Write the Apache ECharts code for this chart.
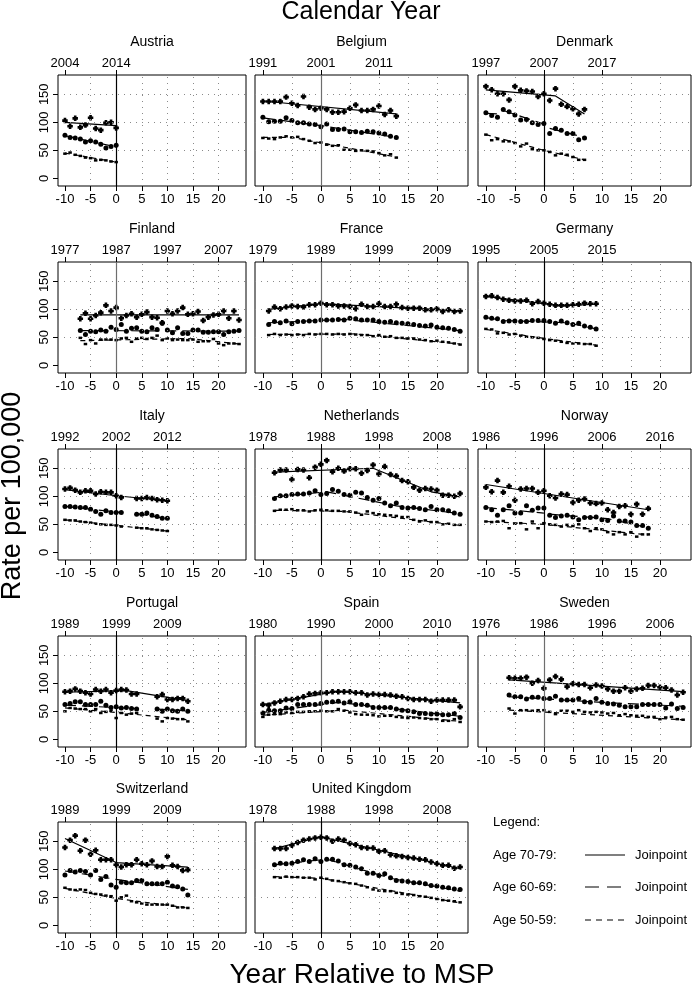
<!DOCTYPE html>
<html>
<head>
<meta charset="utf-8">
<script src="https://cdn.jsdelivr.net/npm/echarts@6/dist/echarts.min.js"></script>
<style>
html,body{margin:0;padding:0;background:#fff;}
#chart{width:692px;height:992px;}
</style>
</head>
<body>
<div id="chart"></div>
<script>
// ---------------- DATA ----------------
const COUNTRIES = ['Austria','Belgium','Denmark','Finland','France','Germany','Italy','Netherlands','Norway','Portugal','Spain','Sweden','Switzerland','United Kingdom'];
const MSP_YEAR = [2014, 2001, 2007, 1987, 1989, 2005, 2002, 1988, 1996, 1999, 1990, 1986, 1999, 1988];
const FIRST_X  = [-10, -10, -10, -7, -9, -10, -10, -8, -10, -10, -10, -6, -10, -8];
const TOP_YEARS = [
  [2004, 2014], [1991, 2001, 2011], [1997, 2007, 2017],
  [1977, 1987, 1997, 2007], [1979, 1989, 1999, 2009], [1995, 2005, 2015],
  [1992, 2002, 2012], [1978, 1988, 1998, 2008], [1986, 1996, 2006, 2016],
  [1989, 1999, 2009], [1980, 1990, 2000, 2010], [1976, 1986, 1996, 2006],
  [1989, 1999, 2009], [1978, 1988, 1998, 2008]
];
const BOTTOM_TICKS = [-10, -5, 0, 5, 10, 15, 20];
const Y_TICKS = [0, 50, 100, 150];
const GRID_X = [-5, 5, 10, 15, 20];
const GRID_Y = [50, 100, 150];
const AGE_GROUPS = ['Age 70-79:', 'Age 60-69:', 'Age 50-59:'];
const FIT_LABEL = 'Joinpoint';

// Austria
const austria70 = [103, 93, 107, 91, 95, 108, 89, 86, 99, 100, 90];
const austria60 = [77, 73, 72, 70, 65, 67, 65, 61, 54, 57, 59];
const austria50 = [44, 46, 42, 40, 37, 36, 32, 33, 32, 30, 29];
const austriaFit70 = [[-10, 100], [0, 94]];
const austriaFit60 = [[-10, 76], [0, 56]];
const austriaFit50 = [[-10, 45], [0, 29]];
// Belgium
const belgium70 = [137, 137, 137, 137, 145, 134, 130, 146, 127, 123, 125, 123, 118, 118, 119, 125, 131, 121, 121, 123, 129, 114, 121, 111];
const belgium60 = [109, 101, 102, 102, 108, 103, 99, 99, 97, 96, 92, 97, 87, 87, 88, 83, 83, 82, 84, 83, 81, 79, 75, 73];
const belgium50 = [72, 71, 70, 73, 75, 73, 74, 70, 67, 63, 64, 60, 58, 59, 51, 51, 49, 50, 49, 48, 45, 41, 43, 37];
const belgiumFit70 = [[-10, 138], [13, 115]];
const belgiumFit60 = [[-10, 108], [0, 94], [13, 73]];
const belgiumFit50 = [[-10, 73], [-5, 73], [13, 38]];
// Denmark
const denmark70 = [164, 158, 151, 151, 140, 164, 157, 156, 155, 146, 151, 139, 160, 132, 128, 124, 115, 123];
const denmark60 = [117, 112, 109, 123, 119, 113, 104, 105, 99, 96, 98, 80, 89, 86, 80, 80, 69, 72];
const denmark50 = [78, 68, 70, 66, 66, 63, 57, 62, 52, 50, 50, 47, 41, 44, 42, 38, 33, 33];
const denmarkFit70 = [[-10, 158], [2, 147], [7, 115]];
const denmarkFit60 = [[-10, 116], [-8, 115], null, [-7, 121], [0, 97], null, [1, 89], [7, 73]];
const denmarkFit50 = [[-10, 78], [0, 50], [7, 33]];
// Finland
const finland70 = [83, 93, 83, 89, 94, 107, 97, 103, 84, 89, 92, 86, 91, 95, 86, 85, 76, 97, 92, 97, 103, 91, 92, 96, 80, 86, 90, 91, 97, 84, 97, 81];
const finland60 = [62, 55, 61, 60, 63, 61, 68, 64, 73, 61, 66, 67, 61, 60, 67, 64, 75, 63, 58, 67, 57, 57, 63, 63, 59, 59, 60, 60, 55, 60, 61, 62];
const finland50 = [49, 38, 45, 39, 46, 46, 46, 45, 48, 49, 42, 48, 49, 47, 49, 53, 45, 48, 45, 46, 45, 45, 46, 42, 43, 43, 47, 39, 36, 39, 39, 38];
const finlandFit70 = [[-7, 90], [24, 90]];
const finlandFit60 = [[-7, 62], [24, 61]];
const finlandFit50 = [[-7, 44], [14, 48], [24, 38]];
// France
const france70 = [97, 104, 101, 104, 106, 105, 104, 108, 108, 111, 108, 108, 106, 106, 105, 101, 109, 105, 105, 110, 105, 105, 109, 103, 102, 102, 102, 99, 99, 101, 96, 99, 96, 97];
const france60 = [73, 78, 76, 79, 74, 78, 78, 79, 79, 81, 81, 81, 82, 81, 84, 83, 81, 81, 81, 78, 77, 78, 76, 75, 74, 73, 71, 70, 72, 68, 67, 66, 64, 61];
const france50 = [54, 56, 54, 55, 54, 55, 54, 56, 55, 56, 56, 55, 56, 55, 56, 55, 54, 54, 52, 54, 51, 52, 49, 49, 48, 48, 46, 45, 43, 44, 42, 41, 39, 37];
const franceFit70 = [[-9, 100], [0, 110], [24, 97]];
const franceFit60 = [[-9, 76], [4, 82], [24, 62]];
const franceFit50 = [[-9, 55], [6, 56], [24, 38]];
// Germany
const germany70 = [123, 124, 121, 118, 116, 115, 115, 116, 110, 114, 111, 109, 107, 107, 107, 108, 109, 111, 110, 110];
const germany60 = [86, 84, 83, 78, 79, 79, 78, 78, 80, 80, 80, 78, 75, 79, 76, 73, 75, 70, 68, 65];
const germany50 = [65, 64, 57, 58, 55, 56, 53, 51, 50, 49, 47, 45, 44, 42, 40, 39, 39, 38, 38, 35];
const germanyFit70 = [[-10, 123], [3, 106], [9, 109]];
const germanyFit60 = [[-10, 85], [-7, 80], [4, 76], [9, 65]];
const germanyFit50 = [[-10, 64], [0, 48], [9, 36]];
// Italy
const italy70 = [113, 115, 111, 107, 110, 110, 104, 108, 107, 107, 101, 98, null, null, 96, 96, 98, 96, 94, 93, 92];
const italy60 = [82, 82, 81, 80, 80, 77, 73, 68, 74, 71, 71, 71, null, null, 68, 68, 70, 66, 64, 61, 61];
const italy50 = [58, 57, 57, 55, 54, 53, 51, 50, 49, 49, 48, 46, null, null, 44, 43, 43, 41, 40, 39, 38];
const italyFit70 = [[-10, 112], [0, 101], [10, 92]];
const italyFit60 = [[-10, 82], [1, 71], null, [4, 69], [10, 60]];
const italyFit50 = [[-10, 58], [0, 48], [10, 38]];
// Netherlands
const netherlands70 = [142, 147, 147, 130, 148, 147, 133, 152, 157, 164, 144, 150, 145, 149, 149, 141, 146, 156, 140, 153, 139, 136, 128, 126, 116, 111, 114, 113, 111, 102, 102, 100, 105];
const netherlands60 = [96, 101, 101, 103, 104, 104, 106, 110, 103, 105, 112, 109, 103, 102, 107, 106, 98, 93, 96, 88, 83, 88, 80, 79, 80, 78, 76, 82, 76, 76, 74, 70, 68];
const netherlands50 = [74, 76, 76, 77, 75, 75, 73, 75, 76, 75, 74, 74, 73, 73, 71, 67, 73, 70, 68, 67, 66, 65, 63, 63, 58, 55, 57, 54, 54, 50, 51, 49, 49];
const netherlandsFit70 = [[-8, 143], [9, 150], [19, 108], [24, 99]];
const netherlandsFit60 = [[-8, 99], [1, 108], [13, 83], [24, 69]];
const netherlandsFit50 = [[-8, 75], [4, 73], [24, 48]];
// Norway
const norway70 = [116, 108, 128, 107, 118, 93, 113, 114, 114, 107, 110, 101, 97, 104, 103, 89, 93, 95, 88, 87, 88, 76, 71, 82, 83, 68, 86, 68, 78];
const norway60 = [80, 76, 66, 76, 83, 70, 70, 83, 75, 79, 79, 66, 62, 65, 66, 63, 58, 62, 62, 63, 58, 57, 65, 56, 56, 54, 48, 48, 43];
const norway50 = [55, 54, 55, 56, 43, 51, 52, 41, 55, 43, 52, 50, 49, 46, 49, 47, 50, 43, 38, 43, 41, 36, 32, 36, 32, 36, 28, 32, 32];
const norwayFit70 = [[-10, 121], [0, 105], [18, 76]];
const norwayFit60 = [[-10, 80], [0, 70], null, [1, 68], [11, 60], [18, 44]];
const norwayFit50 = [[-10, 55], [0, 50], [18, 31]];
// Portugal
const portugal70 = [85, 86, 90, 86, 83, 81, 89, 86, 89, 83, 87, 89, 88, 81, 81, null, null, null, 76, 80, 71, 71, 73, 73, 68];
const portugal60 = [62, 64, 67, 67, 62, 62, 62, 68, 61, 57, 58, 56, 57, 55, 54, null, null, null, 54, 50, 54, 51, 50, 54, 50];
const portugal50 = [50, 56, 55, 54, 54, 50, 54, 47, 49, 51, 38, 47, 44, 46, 47, null, null, null, 37, 32, 38, 37, 36, 36, 32];
const portugalFit70 = [[-10, 84], [2, 87], [14, 69]];
const portugalFit60 = [[-10, 61], [4, 55], null, [8, 54], [14, 51]];
const portugalFit50 = [[-10, 56], [0, 48], [14, 35]];
// Spain
const spain70 = [62, 61, 65, 68, 71, 71, 73, 76, 81, 82, 83, 83, 85, 85, 85, 85, 83, 83, 79, 81, 80, 80, 79, 77, 76, 73, 71, 71, 71, 68, 70, 70, 70, 70, 58];
const spain60 = [47, 52, 51, 51, 56, 55, 62, 62, 62, 62, 64, 66, 67, 68, 65, 67, 62, 62, 61, 57, 57, 57, 57, 54, 52, 51, 49, 46, 46, 45, 45, 44, 44, 46, 39];
const spain50 = [40, 44, 45, 45, 48, 47, 49, 49, 50, 50, 51, 50, 50, 54, 51, 48, 45, 44, 44, 43, 41, 42, 42, 40, 39, 38, 39, 38, 37, 36, 36, 33, 33, 36, 31];
const spainFit70 = [[-10, 62], [3, 86], [24, 65]];
const spainFit60 = [[-10, 48], [3, 66], [24, 41]];
const spainFit50 = [[-10, 43], [4, 52], [24, 32]];
// Sweden
const sweden70 = [110, 109, 109, 111, 100, 105, 91, 106, 112, 107, 94, 99, 98, 98, 92, 97, 95, 90, 86, 86, 92, 86, 90, 91, 96, 96, 93, 92, 88, 79, 84];
const sweden60 = [79, 76, 76, 72, 75, 75, 73, 73, 77, 70, 70, 70, 73, 67, 66, 73, 66, 64, 63, 61, 58, 58, 58, 62, 62, 62, 62, 56, 63, 55, 57];
const sweden50 = [55, 46, 52, 52, 51, 52, 52, 49, 45, 51, 51, 49, 52, 49, 48, 49, 48, 46, 47, 43, 45, 43, 42, 42, 40, 40, 36, 39, 40, 36, 35];
const swedenFit70 = [[-6, 106], [24, 85]];
const swedenFit60 = [[-6, 76], [10, 66], [24, 59]];
const swedenFit50 = [[-6, 52], [24, 35]];
// Switzerland
const switzerland70 = [139, 152, 160, 133, 152, 127, 134, 117, 117, 117, 108, 104, 108, 108, 117, 110, 108, 115, 105, 105, 123, 107, 105, 98, 99];
const switzerland60 = [90, 98, 95, 98, 96, 90, 98, 82, 87, 72, 68, 77, 76, 76, 80, 80, 74, 74, 74, 74, 77, 70, 69, 65, 54];
const switzerland50 = [67, 64, 63, 64, 63, 58, 56, 55, 53, 52, 44, 50, 53, 43, 41, 39, 37, 37, 37, 37, 37, 35, 32, 32, 31];
const switzerlandFit70 = [[-10, 155], [0, 112], [14, 104]];
const switzerlandFit60 = [[-10, 97], [0, 82], [14, 64]];
const switzerlandFit50 = [[-10, 66], [0, 48], [14, 31]];
// United Kingdom
const uk70 = [137, 137, 137, 143, 148, 152, 154, 156, 157, 156, 150, 154, 152, 146, 144, 139, 138, 138, 132, 133, 126, 124, 123, 121, 120, 118, 117, 113, 110, 107, 107, 102, 104];
const uk60 = [108, 111, 110, 111, 114, 117, 114, 119, 114, 118, 118, 115, 108, 107, 104, 101, 93, 93, 89, 92, 85, 80, 79, 78, 76, 76, 74, 71, 70, 68, 67, 65, 64];
const uk50 = [86, 85, 87, 86, 86, 85, 85, 82, 85, 83, 80, 79, 77, 75, 74, 71, 68, 64, 62, 61, 61, 58, 56, 55, 54, 52, 51, 49, 47, 45, 44, 43, 41];
const ukFit70 = [[-8, 137], [0, 158], [24, 101]];
const ukFit60 = [[-8, 108], [1, 118], [12, 84], [24, 61]];
const ukFit50 = [[-8, 87], [0, 84], [24, 40]];

const RATES = [
  [austria70, belgium70, denmark70, finland70, france70, germany70, italy70, netherlands70, norway70, portugal70, spain70, sweden70, switzerland70, uk70],
  [austria60, belgium60, denmark60, finland60, france60, germany60, italy60, netherlands60, norway60, portugal60, spain60, sweden60, switzerland60, uk60],
  [austria50, belgium50, denmark50, finland50, france50, germany50, italy50, netherlands50, norway50, portugal50, spain50, sweden50, switzerland50, uk50]
];
const FITS = [
  [austriaFit70, belgiumFit70, denmarkFit70, finlandFit70, franceFit70, germanyFit70, italyFit70, netherlandsFit70, norwayFit70, portugalFit70, spainFit70, swedenFit70, switzerlandFit70, ukFit70],
  [austriaFit60, belgiumFit60, denmarkFit60, finlandFit60, franceFit60, germanyFit60, italyFit60, netherlandsFit60, norwayFit60, portugalFit60, spainFit60, swedenFit60, switzerlandFit60, ukFit60],
  [austriaFit50, belgiumFit50, denmarkFit50, finlandFit50, franceFit50, germanyFit50, italyFit50, netherlandsFit50, norwayFit50, portugalFit50, spainFit50, swedenFit50, switzerlandFit50, ukFit50]
];

// ---------------- STYLE / LAYOUT ----------------
const FONT = '"Liberation Sans", Arial, Helvetica, sans-serif';
const X_MIN = -11.36, X_MAX = 25.36;
const Y_MIN = -13.7, Y_MAX = 184.4;
const COL_LEFT = [58, 255, 478];
const COL_W = [188, 213, 213];
const ROW_TOP = [75, 262, 449, 636, 822];
const PANEL_H = 111;
const ZERO_LINE_GRAY = [false, true, false, true, true, false, false, false, false, false, true, true, false, false];
const PLUS = 'path://M2.1,0H5.9V2.1H8V5.9H5.9V8H2.1V5.9H0V2.1H2.1Z';
const SYMBOLS = [PLUS, 'circle', 'rect'];
const SYMBOL_SIZES = [5.5, 5, [3.5, 2.5]];
const DASHES = ['solid', [11, 6], [5, 4]];

function toPoints(vals, x0) {
  const out = [];
  vals.forEach((v, k) => { if (v !== null) out.push([x0 + k, v]); });
  return out;
}
function segments(fit) {
  const segs = []; let cur = [];
  fit.forEach(p => { if (p === null) { if (cur.length) segs.push(cur); cur = []; } else cur.push(p); });
  if (cur.length) segs.push(cur);
  return segs;
}

const grids = [], xAxes = [], yAxes = [], series = [], graphics = [];
COUNTRIES.forEach((name, i) => {
  const r = Math.floor(i / 3), c = i % 3;
  const left = COL_LEFT[c], width = COL_W[c], top = ROW_TOP[r];
  grids.push({ left, top, width, height: PANEL_H, show: true, borderColor: '#000', borderWidth: 1,
    backgroundColor: 'transparent', containLabel: false, outerBoundsMode: 'none' });
  const msp = MSP_YEAR[i];
  const topVals = TOP_YEARS[i].map(y => y - msp);
  xAxes.push({
    type: 'value', gridIndex: i, min: X_MIN, max: X_MAX, position: 'bottom',
    axisLine: { show: false, onZero: false }, splitLine: { show: false },
    axisTick: { show: true, customValues: BOTTOM_TICKS, length: 5, lineStyle: { color: '#000' } },
    axisLabel: { customValues: BOTTOM_TICKS, fontSize: 13, color: '#000', margin: 7, fontFamily: FONT }
  });
  xAxes.push({
    type: 'value', gridIndex: i, min: X_MIN, max: X_MAX, position: 'top',
    axisLine: { show: false, onZero: false }, splitLine: { show: false },
    axisTick: { show: true, customValues: topVals, length: 5, lineStyle: { color: '#000' } },
    axisLabel: { customValues: topVals, fontSize: 13, color: '#000', margin: 5, fontFamily: FONT,
      formatter: v => String(Math.round(v + msp)) }
  });
  yAxes.push({
    type: 'value', gridIndex: i, min: Y_MIN, max: Y_MAX, position: 'left',
    axisLine: { show: false, onZero: false }, splitLine: { show: false },
    axisTick: { show: c === 0, customValues: Y_TICKS, length: 5, lineStyle: { color: '#000' } },
    axisLabel: { show: c === 0, customValues: Y_TICKS, rotate: 90, fontSize: 13, color: '#000', margin: 7, fontFamily: FONT }
  });
  // reference lines: dotted grid + solid line at MSP (x = 0)
  const ml = [];
  GRID_X.forEach(v => ml.push({ xAxis: v }));
  GRID_Y.forEach(v => ml.push({ yAxis: v }));
  ml.push({ xAxis: 0, lineStyle: { type: 'solid', color: ZERO_LINE_GRAY[i] ? '#6e6e6e' : '#000', width: 1.2 } });
  series.push({
    type: 'line', xAxisIndex: 2 * i, yAxisIndex: i, data: [], silent: true, z: 1,
    markLine: { silent: true, symbol: ['none', 'none'], animation: false, label: { show: false },
      lineStyle: { type: [1, 5], color: '#8a8a8a', width: 1 }, data: ml }
  });
  for (let g = 0; g < 3; g++) {
    series.push({
      type: 'scatter', xAxisIndex: 2 * i, yAxisIndex: i, z: 3,
      data: toPoints(RATES[g][i], FIRST_X[i]),
      symbol: SYMBOLS[g], symbolSize: SYMBOL_SIZES[g], itemStyle: { color: '#000', opacity: 1 }
    });
    segments(FITS[g][i]).forEach(seg => {
      series.push({
        type: 'line', xAxisIndex: 2 * i, yAxisIndex: i, z: 4, data: seg,
        symbol: 'none', showSymbol: false,
        lineStyle: { color: '#000', width: 1.2, type: DASHES[g] }
      });
    });
  }
  graphics.push({ type: 'text', x: left + width / 2, y: top - 33,
    style: { text: name, textAlign: 'center', textVerticalAlign: 'middle', fontSize: 14, fontFamily: FONT, fill: '#000' } });
});

// axis titles
graphics.push({ type: 'text', x: 361, y: 12,
  style: { text: 'Calendar Year', textAlign: 'center', textVerticalAlign: 'middle', fontSize: 25, fontFamily: FONT, fill: '#000' } });
graphics.push({ type: 'text', x: 362, y: 975,
  style: { text: 'Year Relative to MSP', textAlign: 'center', textVerticalAlign: 'middle', fontSize: 28, fontFamily: FONT, fill: '#000' } });
graphics.push({ type: 'text', x: 13, y: 496, rotation: Math.PI / 2,
  style: { text: 'Rate per 100,000', textAlign: 'center', textVerticalAlign: 'middle', fontSize: 27, fontFamily: FONT, fill: '#000' } });

// legend
graphics.push({ type: 'text', x: 493, y: 822,
  style: { text: 'Legend:', textAlign: 'left', textVerticalAlign: 'middle', fontSize: 13, fontFamily: FONT, fill: '#000' } });
const LEG_Y = [855, 887, 920];
AGE_GROUPS.forEach((lab, g) => {
  graphics.push({ type: 'text', x: 493, y: LEG_Y[g],
    style: { text: lab, textAlign: 'left', textVerticalAlign: 'middle', fontSize: 13, fontFamily: FONT, fill: '#000' } });
  graphics.push({ type: 'line', shape: { x1: 585, y1: LEG_Y[g], x2: 625, y2: LEG_Y[g] },
    style: { stroke: '#000', lineWidth: 1.2, lineDash: g === 0 ? null : (g === 1 ? [14, 8] : [6, 5]) } });
  graphics.push({ type: 'text', x: 635, y: LEG_Y[g],
    style: { text: FIT_LABEL, textAlign: 'left', textVerticalAlign: 'middle', fontSize: 13, fontFamily: FONT, fill: '#000' } });
});

const chart = echarts.init(document.getElementById('chart'), null, { renderer: 'canvas' });
chart.setOption({
  animation: false,
  backgroundColor: '#fff',
  grid: grids, xAxis: xAxes, yAxis: yAxes, series: series, graphic: graphics
});
</script>
</body>
</html>
